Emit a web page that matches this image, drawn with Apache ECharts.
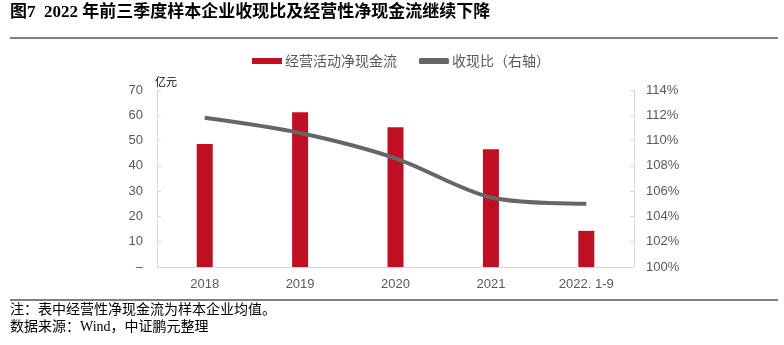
<!DOCTYPE html>
<html><head><meta charset="utf-8">
<script src="https://cdn.jsdelivr.net/npm/echarts@6/dist/echarts.min.js"></script>
<style>html,body{margin:0;padding:0;background:#fff}#c{width:784px;height:345px}</style>
</head><body><div id="c"></div>
<script>
const categories = ['2018', '2019', '2020', '2021', '2022. 1-9'];
const cashFlow = [48.6, 61.2, 55.3, 46.6, 14.3];
const cashRatio = [111.8, 110.6, 108.6, 105.5, 105.0];
const leftTicks = [0, 10, 20, 30, 40, 50, 60, 70];

const chart = echarts.init(document.getElementById('c'));
const gray = '#595959';
const font = 'Arial, "Liberation Sans", "Noto Sans CJK SC"';
chart.setOption({
  animation: false,
  textStyle: { fontFamily: font },
  legend: {
    top: 49, left: 247,
    itemWidth: 30, itemHeight: 6, itemGap: 22,
    textStyle: { color: gray, fontSize: 14, fontFamily: '"Noto Sans CJK SC"', padding: [0, 0, 0, -2] },
    data: [
      { name: '经营活动净现金流', icon: 'rect' },
      { name: '收现比（右轴）', icon: 'roundRect' }
    ]
  },
  grid: { left: 157, right: 150, top: 90, bottom: 78 },
  xAxis: {
    type: 'category', data: categories,
    axisLine: { lineStyle: { color: '#d9d9d9' } },
    axisTick: { show: false },
    axisLabel: { color: gray, fontSize: 13, margin: 11 }
  },
  yAxis: [
    {
      type: 'value', min: 0, max: 70, interval: 10,
      name: '亿元', nameLocation: 'end', nameGap: 2,
      nameTextStyle: { color: '#000', fontSize: 11, align: 'left', padding: [0, 0, 0, -2] },
      axisLine: { show: true, lineStyle: { color: '#d9d9d9' } },
      axisTick: { show: true, inside: true, length: 4, lineStyle: { color: '#d9d9d9' } },
      splitLine: { show: false },
      axisLabel: { color: gray, fontSize: 13, margin: 14,
        formatter: v => v === 0 ? '–' : String(v) }
    },
    {
      type: 'value', min: 100, max: 114, interval: 2,
      position: 'right',
      axisLine: { show: true, lineStyle: { color: '#d9d9d9' } },
      axisTick: { show: true, inside: true, length: 4, lineStyle: { color: '#d9d9d9' } },
      splitLine: { show: false },
      axisLabel: { color: gray, fontSize: 13, margin: 12, formatter: v => v + '%' }
    }
  ],
  series: [
    {
      name: '经营活动净现金流', type: 'bar', data: cashFlow,
      barWidth: 16, itemStyle: { color: '#c00f22' }
    },
    {
      name: '收现比（右轴）', type: 'line', yAxisIndex: 1, data: cashRatio,
      smooth: 0.3, symbol: 'none',
      lineStyle: { color: '#666666', width: 4 }, itemStyle: { color: '#666666' }
    }
  ],
  graphic: [
    { type: 'text', left: 10, top: 4, style: { text: '图7  2022 年前三季度样本企业收现比及经营性净现金流继续下降',
      fill: '#000', font: 'bold 17px "Liberation Serif", "Noto Sans CJK SC"' } },
    { type: 'line', shape: { x1: 10, y1: 38, x2: 778, y2: 38 }, style: { stroke: '#000', lineWidth: 1 } },
    { type: 'line', shape: { x1: 10, y1: 300, x2: 778, y2: 300 }, style: { stroke: '#000', lineWidth: 1 } },
    { type: 'text', left: 10, top: 303, style: { text: '注：表中经营性净现金流为样本企业均值。',
      fill: '#000', font: '14px "Liberation Serif", "Noto Sans CJK SC"' } },
    { type: 'text', left: 10, top: 320, style: { text: '数据来源：Wind，中证鹏元整理',
      fill: '#000', font: '14px "Liberation Serif", "Noto Sans CJK SC"' } }
  ]
});
</script></body></html>
